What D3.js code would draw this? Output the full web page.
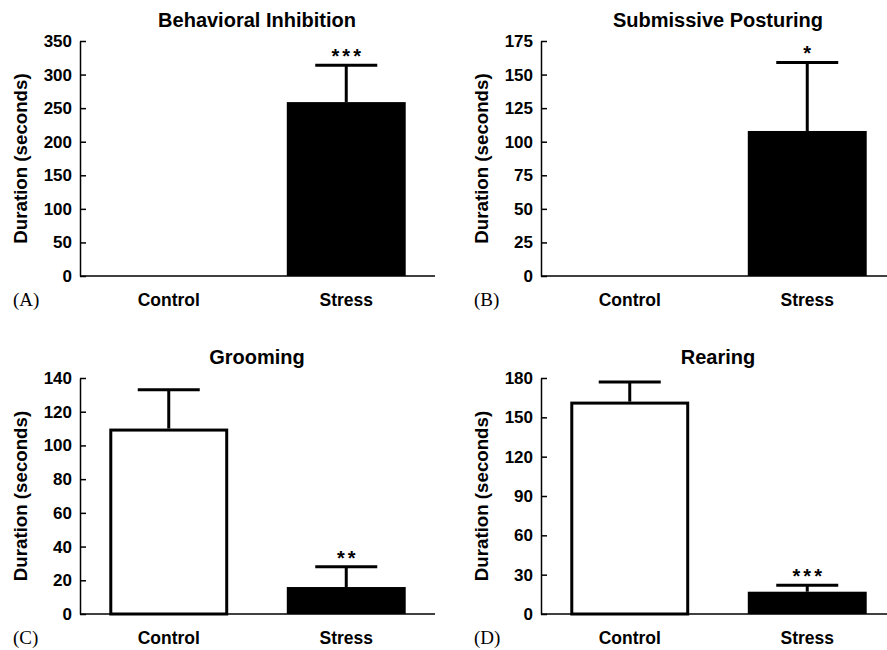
<!DOCTYPE html>
<html>
<head>
<meta charset="utf-8">
<script src="https://cdn.jsdelivr.net/npm/d3@7"></script>
<style>
  body { margin: 0; background: #fff; }
  svg { display: block; }
  .tick text { font-family: "Liberation Sans", Arial, sans-serif; font-weight: bold; font-size: 17px; fill: #000; }
  .title, .cat, .ylab { font-family: "Liberation Sans", Arial, sans-serif; font-weight: bold; fill: #000; }
  .letter { font-family: "Liberation Serif", "Times New Roman", serif; font-size: 19px; fill: #000; }
</style>
</head>
<body>
<div id="chart"></div>
<script>
const categories = ["Control", "Stress"];
const titles = ["Behavioral Inhibition", "Submissive Posturing", "Grooming", "Rearing"];
const letters = ["(A)", "(B)", "(C)", "(D)"];
const means = [[0, 259], [0, 108], [110, 16], [162, 17]];
const errors = [[0, 55], [0, 51], [23, 12], [15, 5]];
const yMax = [350, 175, 140, 180];
const tickStep = [50, 25, 20, 30];
const stars = ["***", "*", "**", "***"];

const W = 887, H = 650;
const cols = [80, 541];
const rows = [{ top: 41, bottom: 276 }, { top: 378, bottom: 614 }];
const plotW = 355;

const svg = d3.select("#chart").append("svg")
  .attr("width", W)
  .attr("height", H);

titles.forEach((title, i) => {
  const left = cols[i % 2];
  const { top, bottom } = rows[Math.floor(i / 2)];

  const x = d3.scaleBand()
    .domain(categories)
    .range([left, left + plotW])
    .paddingInner(0.33)
    .paddingOuter(0.165);

  const y = d3.scaleLinear()
    .domain([0, yMax[i]])
    .range([bottom, top]);

  const g = svg.append("g");

  // bars
  categories.forEach((cat, j) => {
    const v = means[i][j];
    if (v <= 0) return;
    const isControl = j === 0;
    const cx = x(cat) + x.bandwidth() / 2;
    const e = errors[i][j];

    // error bar (drawn first so the bar covers its foot)
    g.append("line")
      .attr("x1", cx).attr("x2", cx)
      .attr("y1", y(v)).attr("y2", y(v + e))
      .attr("stroke", "#000").attr("stroke-width", 3);
    g.append("line")
      .attr("x1", cx - 31).attr("x2", cx + 31)
      .attr("y1", y(v + e)).attr("y2", y(v + e))
      .attr("stroke", "#000").attr("stroke-width", 3);

    g.append("rect")
      .attr("x", isControl ? x(cat) + 1.5 : x(cat))
      .attr("y", isControl ? y(v) + 1.5 : y(v))
      .attr("width", isControl ? x.bandwidth() - 3 : x.bandwidth())
      .attr("height", isControl ? y(0) - y(v) - 1.5 : y(0) - y(v))
      .attr("fill", isControl ? "#fff" : "#000")
      .attr("stroke", isControl ? "#000" : "none")
      .attr("stroke-width", 3);

    if (!isControl) {
      g.append("text")
        .attr("x", cx + 1.5)
        .attr("y", y(v + e) - 2)
        .attr("text-anchor", "middle")
        .attr("font-family", "Liberation Sans, Arial, sans-serif")
        .attr("font-weight", "bold")
        .attr("font-size", 20)
        .attr("letter-spacing", 3)
        .text(stars[i]);
    }
  });

  // y axis
  const yAxis = d3.axisLeft(y)
    .tickValues(d3.range(0, yMax[i] + 1, tickStep[i]))
    .tickSizeInner(-6)
    .tickSizeOuter(0)
    .tickPadding(8);

  const ay = g.append("g")
    .attr("transform", `translate(${left},0)`)
    .call(yAxis);
  ay.selectAll("path, line").attr("stroke", "#000").attr("stroke-width", 1.5);

  // x baseline
  g.append("line")
    .attr("x1", left).attr("x2", left + plotW)
    .attr("y1", bottom).attr("y2", bottom)
    .attr("stroke", "#000").attr("stroke-width", 1.5);

  // category labels
  categories.forEach((cat) => {
    g.append("text")
      .attr("class", "cat")
      .attr("x", x(cat) + x.bandwidth() / 2)
      .attr("y", bottom + 30)
      .attr("text-anchor", "middle")
      .attr("font-size", 17.5)
      .text(cat);
  });

  // title
  g.append("text")
    .attr("class", "title")
    .attr("x", left + 177)
    .attr("y", top - 14)
    .attr("text-anchor", "middle")
    .attr("font-size", 20)
    .text(title);

  // y label
  const ly = (top + bottom) / 2;
  g.append("text")
    .attr("class", "ylab")
    .attr("transform", `translate(${left - 53},${ly}) rotate(-90)`)
    .attr("text-anchor", "middle")
    .attr("font-size", 18.7)
    .text("Duration (seconds)");

  // panel letter
  g.append("text")
    .attr("class", "letter")
    .attr("x", left - 67)
    .attr("y", bottom + 30)
    .text(letters[i]);
});
</script>
</body>
</html>
